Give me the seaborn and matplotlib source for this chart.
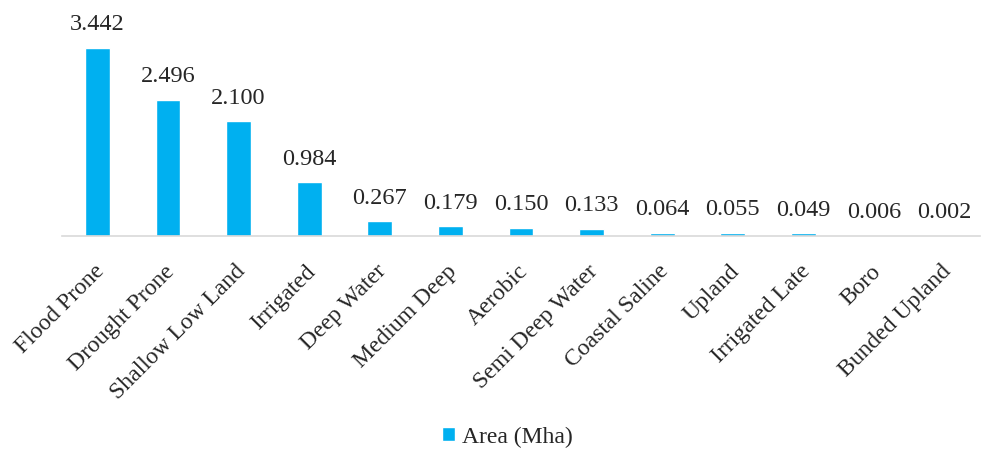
import matplotlib.pyplot as plt
import matplotlib.transforms as mtrans
import seaborn as sns
import pandas as pd

# rice ecosystem areas
categories = ["Flood Prone", "Drought Prone", "Shallow Low Land", "Irrigated",
              "Deep Water", "Medium Deep", "Aerobic", "Semi Deep Water",
              "Coastal Saline", "Upland", "Irrigated Late", "Boro", "Bunded Upland"]
area = [3.442, 2.496, 2.100, 0.984, 0.267, 0.179, 0.150, 0.133,
        0.064, 0.055, 0.049, 0.006, 0.002]

df = pd.DataFrame({"cat": categories, "area": area})

sns.set_style("white")
plt.rcParams['font.family'] = ['Liberation Serif', 'DejaVu Serif']

fig = plt.figure(figsize=(9.84, 4.49), dpi=100)
ax = fig.add_axes([62/984, 213/449, 918/984, 231/449])

sns.barplot(data=df, x="cat", y="area", color="#00B0F0", width=0.35,
            saturation=1, ax=ax, label="Area (Mha)")

for i, v in enumerate(area):
    ax.text(i, v + 0.23, f"{v:.3f}", ha="center", va="bottom", fontsize=17.5)

ax.set_ylim(0, 4.229)
ax.set_xlim(-0.5, len(categories) - 0.5)
ax.set_yticks([])
ax.set_xlabel("")
ax.set_ylabel("")
for s in ["top", "right", "left"]:
    ax.spines[s].set_visible(False)
ax.spines["bottom"].set_color("#d9d9d9")
ax.spines["bottom"].set_linewidth(1.2)
ax.tick_params(axis="x", length=0, pad=18)
plt.setp(ax.get_xticklabels(), rotation=45, ha="right", rotation_mode="anchor", fontsize=17)
# nudge labels a little left, like excel does
shift = mtrans.ScaledTranslation(-4/100, 0, fig.dpi_scale_trans)
for lab in ax.get_xticklabels():
    lab.set_transform(lab.get_transform() + shift)

fig.legend(*ax.get_legend_handles_labels(), loc="center", bbox_to_anchor=(507/984, 12/449),
           frameon=False, fontsize=17, handlelength=0.55, handleheight=0.55,
           handletextpad=0.3)
if ax.get_legend():
    ax.get_legend().remove()

fig.savefig("out.png", dpi=100)
